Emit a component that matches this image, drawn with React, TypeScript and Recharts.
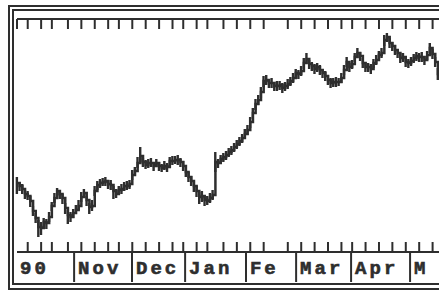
import { ComposedChart, Bar, Line, XAxis, YAxis } from 'recharts';

// daily high / low / close, one entry per trading day (Oct 90 .. May 91)
const hiVals = [
  75, 70, 68, 62, 61, 56, 46, 39, 32, 30, 34, 33, 40, 50, 59, 64, 62, 58, 49, 42,
  40, 43, 47, 52, 60, 63, 56, 49, 52, 66, 71, 73, 74, 75, 72, 72, 66, 63, 66, 68,
  70, 71, 72, 82, 85, 95, 105, 94, 92, 93, 94, 90, 93, 90, 88, 91, 89, 95, 96, 96,
  97, 94, 91, 85, 80, 76, 71, 66, 60, 61, 57, 56, 59, 62, 100, 93, 97, 99, 101, 104,
  106, 109, 112, 115, 118, 123, 127, 135, 144, 153, 157, 165, 176, 177, 173, 174, 170, 171, 171, 169,
  170, 173, 175, 179, 183, 182, 186, 194, 199, 192, 190, 188, 189, 187, 183, 181, 177, 174, 174, 175,
  174, 179, 187, 195, 189, 192, 199, 204, 200, 194, 190, 189, 188, 193, 197, 201, 204, 217, 219, 214,
  210, 207, 203, 199, 199, 195, 193, 195, 198, 200, 199, 200, 196, 201, 209, 203, 195, 184, 173,
];
const loVals = [
  58, 61, 58, 53, 52, 45, 36, 29, 15, 17, 25, 23, 30, 41, 49, 56, 53, 48, 38, 28,
  30, 34, 38, 42, 50, 54, 46, 38, 41, 56, 62, 64, 66, 66, 63, 62, 53, 54, 57, 58,
  61, 62, 63, 72, 76, 84, 90, 85, 83, 84, 85, 81, 85, 81, 80, 82, 80, 86, 87, 88,
  87, 85, 81, 75, 70, 66, 60, 55, 48, 50, 46, 47, 49, 52, 80, 84, 88, 90, 92, 95,
  97, 100, 103, 106, 109, 113, 117, 124, 133, 142, 147, 154, 165, 167, 164, 164, 161, 161, 162, 159,
  161, 163, 166, 169, 174, 173, 176, 183, 188, 183, 181, 178, 180, 177, 174, 171, 167, 164, 165, 165,
  166, 169, 177, 185, 180, 183, 190, 194, 191, 184, 180, 180, 178, 184, 187, 192, 194, 206, 210, 204,
  201, 197, 194, 189, 190, 185, 184, 186, 189, 191, 190, 190, 187, 192, 199, 193, 185, 172, 162,
];
const closeVals = [
  69, 66, 63, 58, 56, 51, 41, 34, 25, 24, 30, 29, 35, 46, 54, 61, 58, 54, 44, 37,
  35, 39, 42, 46, 55, 59, 52, 45, 46, 61, 67, 69, 70, 71, 68, 67, 61, 58, 62, 63,
  66, 66, 68, 77, 81, 89, 96, 90, 87, 89, 89, 86, 89, 86, 84, 86, 85, 91, 91, 92,
  92, 90, 86, 80, 75, 71, 66, 61, 55, 56, 52, 51, 54, 57, 90, 89, 93, 95, 97, 100,
  102, 105, 108, 111, 114, 118, 122, 130, 139, 148, 152, 160, 171, 172, 169, 169, 166, 166, 167, 164,
  166, 168, 171, 174, 179, 178, 181, 189, 193, 188, 186, 183, 185, 182, 179, 176, 172, 169, 170, 170,
  170, 174, 182, 190, 185, 188, 195, 199, 196, 189, 185, 185, 183, 189, 192, 197, 199, 212, 215, 209,
  206, 202, 199, 194, 195, 190, 189, 191, 194, 196, 195, 195, 192, 197, 204, 198, 190, 178, 168,
];

// weekly tick marks (day index) and month boxes
const weekTicks = [
  0, 4, 9, 13, 19, 24, 29, 34, 38, 43, 48, 53, 58, 62, 67, 71, 77, 82, 87, 92,
  101, 106, 111, 116, 121, 125, 130, 135, 140, 145, 150, 155,
];
const monthTicks = [0, 21.3, 42.9, 62.7, 85.4, 104.1, 124.6, 146.6];
const monthLabels = ['90', 'Nov', 'Dec', 'Jan', 'Fe', 'Mar', 'Apr', 'M'];

const INK = '#2e2e2e';
const LABEL_FONT = '"Liberation Mono", "DejaVu Sans Mono", monospace';

const rows = closeVals.map((c, i) => ({
  i,
  close: c,
  range: [loVals[i], hiVals[i]],
}));

const bottomTickValues = [...weekTicks.filter((t) => t > 0), ...monthTicks].sort((a, b) => a - b);

function TopTick(props: any) {
  const { x, y } = props;
  return <line x1={x} x2={x} y1={y} y2={y + 10} stroke={INK} strokeWidth={2} />;
}

function BottomTick(props: any) {
  const { x, y, payload } = props;
  const m = monthTicks.indexOf(payload.value);
  if (m < 0) return <line x1={x} x2={x} y1={y} y2={y - 10} stroke={INK} strokeWidth={2} />;
  return (
    <g>
      {m > 0 && <line x1={x} x2={x} y1={y} y2={y + 30} stroke={INK} strokeWidth={2} />}
      <text x={x + (m === 0 ? 3 : 4)} y={y + 22} fill={INK} stroke={INK} strokeWidth={0.6}
            fontSize={19} fontWeight={700} letterSpacing={3}
            style={{ fontFamily: LABEL_FONT }}>
        {monthLabels[m]}
      </text>
    </g>
  );
}

export default function App() {
  return (
    <div style={{ position: 'absolute', left: 0, top: 0, width: 439, height: 292, overflow: 'hidden', background: '#fff' }}>
      {/* outer double frame */}
      <div style={{
        position: 'absolute', left: 8, top: 5, width: 520, height: 285, boxSizing: 'border-box',
        borderLeft: `6px double ${INK}`, borderTop: `6px double ${INK}`, borderBottom: `7px double ${INK}`,
      }} />
      <div style={{ position: 'absolute', left: 0, top: 0 }}>
        <ComposedChart width={446} height={292} data={rows} margin={{ top: 18, right: 0, bottom: 10, left: 17 }}>
          <XAxis xAxisId="t" orientation="top" type="number" dataKey="i" domain={[0, 160]} height={1}
                 ticks={weekTicks} interval={0} tickSize={0} tickMargin={0} tick={<TopTick />}
                 axisLine={{ stroke: INK, strokeWidth: 2 }} />
          <XAxis xAxisId="b" orientation="bottom" type="number" dataKey="i" domain={[0, 160]} height={30}
                 ticks={bottomTickValues} interval={0} tickSize={0} tickMargin={0} tick={<BottomTick />}
                 axisLine={{ stroke: INK, strokeWidth: 2 }} />
          <YAxis hide domain={[0, 233]} />
          <Bar xAxisId="b" dataKey="range" barSize={3} fill={INK} isAnimationActive={false} />
          <Line xAxisId="b" type="stepAfter" dataKey="close" stroke={INK} strokeWidth={2.5}
                dot={false} isAnimationActive={false} />
        </ComposedChart>
      </div>
    </div>
  );
}
